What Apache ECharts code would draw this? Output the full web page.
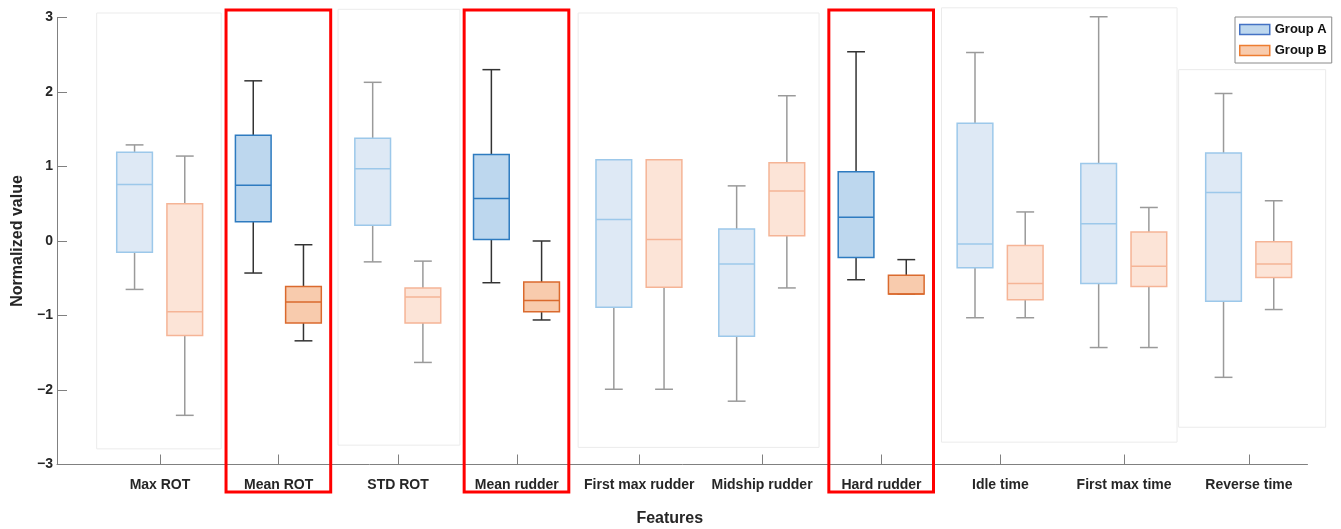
<!DOCTYPE html>
<html><head><meta charset="utf-8">
<script src="https://cdn.jsdelivr.net/npm/echarts@6/dist/echarts.min.js"></script>
<style>html,body{margin:0;padding:0;background:#fff}#c{width:1341px;height:529px}</style>
</head><body><div id="c"></div>
<script>
// ---------- data ----------
const categories = ['Max ROT','Mean ROT','STD ROT','Mean rudder','First max rudder','Midship rudder','Hard rudder','Idle time','First max time','Reverse time'];
const highlighted = [false,true,false,true,false,false,true,false,false,false];
// box statistics per feature: [min, q1, median, q3, max]
const groupA = [
  [-0.65,-0.15,0.76,1.19,1.29],
  [-0.43,0.26,0.75,1.42,2.15],
  [-0.28,0.21,0.97,1.38,2.13],
  [-0.56,0.02,0.57,1.16,2.30],
  [-1.99,-0.89,0.29,1.09,1.09],
  [-2.15,-1.28,-0.31,0.16,0.74],
  [-0.52,-0.22,0.32,0.93,2.54],
  [-1.03,-0.36,-0.04,1.58,2.53],
  [-1.43,-0.57,0.23,1.04,3.01],
  [-1.83,-0.81,0.65,1.18,1.98]
];
const groupB = [
  [-2.34,-1.27,-0.95,0.50,1.14],
  [-1.34,-1.10,-0.82,-0.61,-0.05],
  [-1.63,-1.10,-0.75,-0.63,-0.27],
  [-1.06,-0.95,-0.80,-0.55,0.00],
  [-1.99,-0.62,0.02,1.09,1.09],
  [-0.63,0.07,0.67,1.05,1.95],
  [-0.71,-0.71,-0.71,-0.46,-0.25],
  [-1.03,-0.79,-0.57,-0.06,0.39],
  [-1.43,-0.61,-0.34,0.12,0.45],
  [-0.92,-0.49,-0.31,-0.01,0.54]
];
const yTicks = [-3,-2,-1,0,1,2,3];

// ---------- layout (axis units) ----------
const featurePositions = [1.000,1.981,2.968,3.949,4.961,5.976,6.963,7.946,8.968,10.000];
// light panels around non-highlighted features: [xFrom, xTo, yBottom, yTop]
const panels = [
  [0.477,1.506,-2.79,3.06],
  [2.472,3.479,-2.74,3.11],
  [4.456,6.447,-2.77,3.06],
  [7.459,9.406,-2.70,3.13],
  [9.419,10.634,-2.50,2.30]
];

const styles = {
  A: {hi:{fill:'#BDD7EE',stroke:'#2E7BC0',wh:'#333333'}, lo:{fill:'#DEE9F5',stroke:'#9CC8EA',wh:'#9A9A9A'}},
  B: {hi:{fill:'#F8CBAD',stroke:'#DA6A2E',wh:'#333333'}, lo:{fill:'#FCE4D7',stroke:'#F5B496',wh:'#9A9A9A'}}
};
function boxSeries(name, data, offset, key){
  return {
    type:'custom', name: name, z:3, clip:false,
    data: data.map((d,i)=>[featurePositions[i], d[0], d[1], d[2], d[3], d[4], highlighted[i]?1:0]),
    renderItem: function(params, api){
      const x = api.value(0) + offset;
      const st = api.value(6) ? styles[key].hi : styles[key].lo;
      const cx = api.coord([x, 0])[0];
      const w = api.size([0.295, 0])[0];
      const cap = w/2;
      const yMin = api.coord([x, api.value(1)])[1];
      const yQ1 = api.coord([x, api.value(2)])[1];
      const yMed = api.coord([x, api.value(3)])[1];
      const yQ3 = api.coord([x, api.value(4)])[1];
      const yMax = api.coord([x, api.value(5)])[1];
      const lw = 1.5;
      const wstyle = {stroke: st.wh, lineWidth: lw, fill:null};
      return {type:'group', children:[
        {type:'line', shape:{x1:cx,y1:yQ3,x2:cx,y2:yMax}, style:wstyle},
        {type:'line', shape:{x1:cx,y1:yQ1,x2:cx,y2:yMin}, style:wstyle},
        {type:'line', shape:{x1:cx-cap/2,y1:yMax,x2:cx+cap/2,y2:yMax}, style:wstyle},
        {type:'line', shape:{x1:cx-cap/2,y1:yMin,x2:cx+cap/2,y2:yMin}, style:wstyle},
        {type:'rect', shape:{x:cx-w/2,y:yQ3,width:w,height:yQ1-yQ3}, style:{fill:st.fill, stroke:st.stroke, lineWidth:lw}},
        {type:'line', shape:{x1:cx-w/2,y1:yMed,x2:cx+w/2,y2:yMed}, style:{stroke:st.stroke, lineWidth:lw}}
      ]};
    }
  };
}
const frameSeries = {
  type:'custom', z:1, clip:false, silent:true,
  data: panels.map(p=>[p[0],p[1],p[2],p[3]]),
  renderItem: function(params, api){
    const p1 = api.coord([api.value(0), api.value(3)]);
    const p2 = api.coord([api.value(1), api.value(2)]);
    return {type:'rect', shape:{x:p1[0],y:p1[1],width:p2[0]-p1[0],height:p2[1]-p1[1]}, style:{fill:'rgba(255,255,255,0)', stroke:'#EBEBEB', lineWidth:1}};
  }
};
const redSeries = {
  type:'custom', z:5, clip:false, silent:true,
  data: featurePositions.map((p,i)=>[p, highlighted[i]?1:0]).filter(d=>d[1]),
  renderItem: function(params, api){
    const p1 = api.coord([api.value(0)-0.435, 3.1]);
    const p2 = api.coord([api.value(0)+0.43, -3.37]);
    return {type:'rect', shape:{x:p1[0],y:p1[1],width:p2[0]-p1[0],height:p2[1]-p1[1]}, style:{fill:null, stroke:'#FF0000', lineWidth:3}};
  }
};
const font = 'Liberation Sans, Arial, sans-serif';
const chart = echarts.init(document.getElementById('c'), null, {renderer:'canvas'});
chart.setOption({
  animation:false,
  backgroundColor:'#fff',
  grid:{left:57, right:33.5, top:17.5, bottom:64.5, containLabel:false, outerBoundsMode:'none'},
  legend:{
    orient:'vertical', left:1235, top:17,
    backgroundColor:'#fff', borderColor:'#8A8A8A', borderWidth:1,
    padding:[6,5,6,4], itemGap:8, itemWidth:30, itemHeight:10,
    textStyle:{fontFamily:font, fontWeight:'bold', fontSize:13, color:'#111'},
    data:[
      {name:'Group A', icon:'rect', itemStyle:{color:'#BDD7EE', borderColor:'#4472C4', borderWidth:1.5}},
      {name:'Group B', icon:'rect', itemStyle:{color:'#F8CBAD', borderColor:'#ED7D31', borderWidth:1.5}}
    ]
  },
  xAxis:{
    type:'value', min:0.149, max:10.484,
    name:'Features', nameLocation:'middle', nameGap:46,
    nameTextStyle:{fontFamily:font, fontWeight:'bold', fontSize:16, color:'#262626', padding:[0,25,0,0]},
    splitLine:{show:false},
    axisLine:{show:true, onZero:false, lineStyle:{color:'#808080', width:1}},
    axisTick:{show:true, inside:true, length:10, customValues:featurePositions, lineStyle:{color:'#808080'}},
    axisLabel:{customValues:featurePositions, margin:14, fontFamily:font, fontWeight:'bold', fontSize:14, color:'#262626',
      formatter:function(v){const i = featurePositions.findIndex(p=>Math.abs(p-v)<1e-6); return i>=0?categories[i]:'';}}
  },
  yAxis:{
    type:'value', min:-3, max:3, interval:1,
    name:'Normalized value', nameLocation:'middle', nameGap:31,
    nameTextStyle:{fontFamily:font, fontWeight:'bold', fontSize:16, color:'#262626'},
    splitLine:{show:false},
    axisLine:{show:true, onZero:false, lineStyle:{color:'#808080', width:1}},
    axisTick:{show:true, inside:true, length:10, lineStyle:{color:'#808080'}},
    axisLabel:{margin:4, fontFamily:font, fontWeight:'bold', fontSize:14, color:'#262626',
      customValues: yTicks,
      formatter:function(v){return String(v).replace('-','\u2212');}}
  },
  series:[frameSeries, boxSeries('Group A', groupA, -0.21, 'A'), boxSeries('Group B', groupB, 0.205, 'B'), redSeries]
});
</script></body></html>
